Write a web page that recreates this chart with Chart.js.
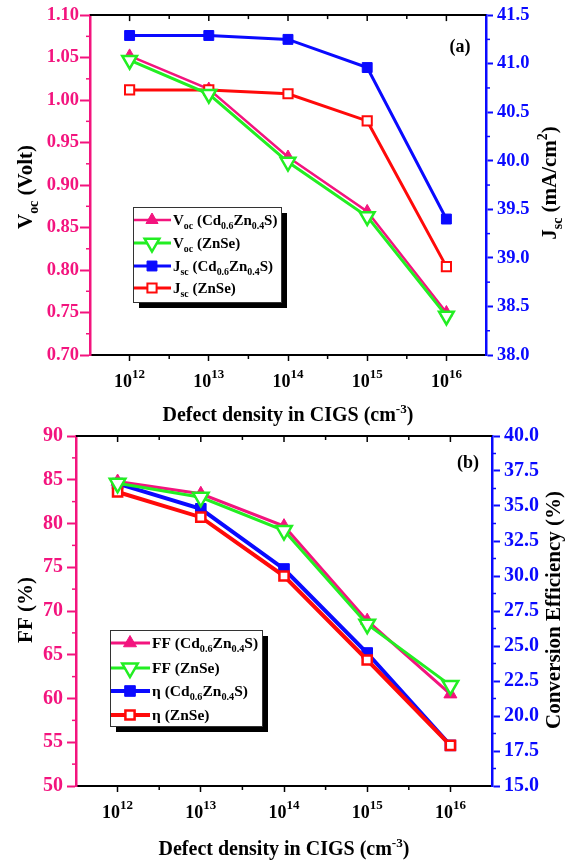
<!DOCTYPE html>
<html><head><meta charset="utf-8">
<script src="https://cdn.jsdelivr.net/npm/chart.js@4.4.0/dist/chart.umd.min.js"></script>
<style>
html,body{margin:0;padding:0;background:#fff;}
#wrap{position:relative;width:574px;height:860px;overflow:hidden;background:#fff;}
canvas{position:absolute;left:0;}
#ca{top:0;} #cb{top:415px;}
</style></head><body>
<div id="wrap"><canvas id="ca" width="574" height="430"></canvas><canvas id="cb" width="574" height="445"></canvas></div>
<script>
// ---- data (x = log10 of defect density) ----
const exponents = [12, 13, 14, 15, 16];
const vocCdZnS = [1.052, 1.013, 0.933, 0.869, 0.750];
const vocZnSe  = [1.047, 1.007, 0.927, 0.863, 0.746];
const jscCdZnS = [41.29, 41.29, 41.25, 40.96, 39.40];
const jscZnSe  = [40.73, 40.73, 40.69, 40.41, 38.91];
const ffCdZnS  = [84.8, 83.4, 79.7, 68.9, 60.5];
const ffZnSe   = [84.6, 83.0, 79.2, 68.5, 61.5];
const etaCdZnS = [36.6, 34.8, 30.5, 24.5, 17.9];
const etaZnSe  = [36.0, 34.2, 30.0, 24.0, 17.9];
// ---- tick labels ----
const vocTicks = ['0.70','0.75','0.80','0.85','0.90','0.95','1.00','1.05','1.10'];
const jscTicks = ['38.0','38.5','39.0','39.5','40.0','40.5','41.0','41.5'];
const ffTicks  = ['50','55','60','65','70','75','80','85','90'];
const etaTicks = ['15.0','17.5','20.0','22.5','25.0','27.5','30.0','32.5','35.0','37.5','40.0'];

const PINK = '#f3147e', GREEN = '#22ee22', BLUE = '#0a0aff', RED = '#ff0a0a';
const FONT = '"Liberation Serif","Times New Roman",serif';

const S = (t) => ({t, sub: 1});
const P = (t) => ({t, sup: 1});
const N = (t) => ({t});

function pts(ys){ return exponents.map((e,i)=>({x:e, y:ys[i]})); }
function mid(arr){ const v = arr.map(Number), r = []; for(let i=0;i<v.length-1;i++) r.push((v[i]+v[i+1])/2); return r; }

function richW(ctx, segs, size){
  let w = 0;
  segs.forEach(s=>{ ctx.font = 'bold '+(s.sub||s.sup? size*0.66 : size)+'px '+FONT; w += ctx.measureText(s.t).width; });
  return w;
}
function drawRich(ctx, segs, x, y, size, align){
  const w = richW(ctx, segs, size);
  let cx = align==='center' ? x - w/2 : x;
  ctx.textAlign = 'left'; ctx.textBaseline = 'alphabetic';
  segs.forEach(s=>{
    const fs = s.sub||s.sup ? size*0.66 : size;
    ctx.font = 'bold '+fs+'px '+FONT;
    const dy = s.sub ? size*0.28 : (s.sup ? -size*0.42 : 0);
    ctx.fillText(s.t, cx, y+dy);
    cx += ctx.measureText(s.t).width;
  });
}

const deco = {
  id: 'deco',
  afterDraw(chart, args, o){
    const {ctx, chartArea: ca, scales} = chart;
    const x = scales.x, y = scales.y, y1 = scales.y1;
    ctx.save();
    // top border
    ctx.strokeStyle = '#000'; ctx.lineWidth = 2;
    ctx.beginPath(); ctx.moveTo(ca.left, ca.top); ctx.lineTo(ca.right, ca.top); ctx.stroke();
    // x ticks top (inward) + minor bottom
    const xMinor = mid(exponents.concat([])).concat([exponents[0]-0.5+0.0, exponents[exponents.length-1]+0.5]).filter(v=>v>x.min && v<x.max);
    ctx.lineWidth = 1.5;
    exponents.forEach(v=>{ const px = x.getPixelForValue(v); ctx.beginPath(); ctx.moveTo(px, ca.top); ctx.lineTo(px, ca.top+6); ctx.stroke(); });
    xMinor.forEach(v=>{ const px = x.getPixelForValue(v);
      ctx.beginPath(); ctx.moveTo(px, ca.top); ctx.lineTo(px, ca.top+4); ctx.stroke();
      ctx.beginPath(); ctx.moveTo(px, ca.bottom); ctx.lineTo(px, ca.bottom+4); ctx.stroke(); });
    // y minor ticks
    ctx.strokeStyle = PINK; ctx.lineWidth = 1.5;
    mid(o.yTicks).forEach(v=>{ const py = y.getPixelForValue(v); ctx.beginPath(); ctx.moveTo(ca.left, py); ctx.lineTo(ca.left-4, py); ctx.stroke(); });
    ctx.strokeStyle = BLUE;
    mid(o.y1Ticks).forEach(v=>{ const py = y1.getPixelForValue(v); ctx.beginPath(); ctx.moveTo(ca.right, py); ctx.lineTo(ca.right+4, py); ctx.stroke(); });
    // x tick labels 10^n
    ctx.fillStyle = '#000';
    exponents.forEach(v=>{
      const px = x.getPixelForValue(v);
      ctx.font = 'bold 18px '+FONT; const w1 = ctx.measureText('10').width;
      ctx.font = 'bold 13px '+FONT; const w2 = ctx.measureText(String(v)).width;
      const sx = px - (w1+w2)/2, by = ca.bottom + 32;
      ctx.textAlign='left'; ctx.textBaseline='alphabetic';
      ctx.font = 'bold 18px '+FONT; ctx.fillText('10', sx, by);
      ctx.font = 'bold 13px '+FONT; ctx.fillText(String(v), sx+w1, by-9);
    });
    // axis titles
    ctx.fillStyle = '#000';
    drawRich(ctx, o.xTitle, (ca.left+ca.right)/2, o.xTitleY, 20, 'center');
    ctx.save(); ctx.translate(o.yTitleX, o.yTitleCY); ctx.rotate(-Math.PI/2);
    drawRich(ctx, o.yTitle, 0, 7, 21, 'center'); ctx.restore();
    ctx.save(); ctx.translate(o.y1TitleX, o.y1TitleCY); ctx.rotate(-Math.PI/2);
    drawRich(ctx, o.y1Title, 0, 7, o.y1TitleSize, 'center'); ctx.restore();
    // panel label
    ctx.font = 'bold 18px '+FONT; ctx.textAlign='center'; ctx.textBaseline='middle';
    ctx.fillText(o.panel, o.panelX, o.panelY);
    // legend
    const L = o.legend;
    ctx.fillStyle = '#000'; ctx.fillRect(L.x+6, L.y+6, L.w, L.h);
    ctx.fillStyle = '#fff'; ctx.fillRect(L.x, L.y, L.w, L.h);
    ctx.strokeStyle = '#333'; ctx.lineWidth = 1; ctx.strokeRect(L.x+0.5, L.y+0.5, L.w, L.h);
    chart.data.datasets.forEach((ds)=>{
      const ry = L.y + L.rows[ds.legendIndex];
      ctx.strokeStyle = ds.borderColor; ctx.lineWidth = ds.borderWidth;
      ctx.beginPath(); ctx.moveTo(L.x+1, ry); ctx.lineTo(L.x+L.lineLen, ry); ctx.stroke();
      ctx.fillStyle = ds.pointBackgroundColor; ctx.strokeStyle = ds.pointBorderColor; ctx.lineWidth = ds.pointBorderWidth;
      Chart.helpers.drawPoint(ctx, {pointStyle: ds.pointStyle, radius: ds.pointRadius, rotation: ds.pointRotation||0, borderWidth: ds.pointBorderWidth}, L.x + L.lineLen/2, ry);
      ctx.fillStyle = '#000';
      drawRich(ctx, ds.rich, L.x + L.lineLen + 2, ry + 5, L.size, 'left');
    });
    ctx.restore();
  }
};

function yScale(ticks, pos, color, size, tickLen, pad, width){
  const nums = ticks.map(Number);
  return {
    type: 'linear', position: pos, min: nums[0], max: nums[nums.length-1],
    afterBuildTicks: s => { s.ticks = nums.map(v=>({value:v})); },
    afterFit: s => { s.width = width; },
    ticks: { color, padding: pad, font: {family: FONT, weight: 'bold', size},
             callback: (v) => { const i = nums.findIndex(n=>Math.abs(n-v)<1e-6); return i>=0 ? ticks[i] : ''; } },
    grid: { drawOnChartArea: false, drawTicks: true, tickLength: tickLen, tickColor: color, tickWidth: 2 },
    border: { display: true, color, width: 2.5 }
  };
}
function xScale(height){
  return {
    type: 'linear', position: 'bottom', min: exponents[0]-0.5, max: exponents[exponents.length-1]+0.5,
    afterBuildTicks: s => { s.ticks = exponents.map(v=>({value:v})); },
    afterFit: s => { s.height = height; },
    ticks: { callback: () => '', padding: 0 },
    grid: { drawOnChartArea: false, drawTicks: true, tickLength: 6, tickColor: '#000', tickWidth: 1.5 },
    border: { display: true, color: '#000', width: 2 }
  };
}

function ds(label, rich, data, axis, color, style, radius, fill, bw, pbw, rot, order, li){
  return { label, rich, data: pts(data), yAxisID: axis, borderColor: color, borderWidth: bw,
    pointStyle: style, pointRadius: radius, pointHoverRadius: radius, pointBackgroundColor: fill,
    pointBorderColor: color, pointBorderWidth: pbw, pointRotation: rot, order, legendIndex: li,
    tension: 0, fill: false, clip: false };
}

const common = (xH, top, left, yT, y1T, yCol) => ({});

new Chart(document.getElementById('ca'), {
  type: 'line',
  data: { datasets: [
    ds('Voc (Cd0.6Zn0.4S)', [N('V'),S('oc'),N(' (Cd'),S('0.6'),N('Zn'),S('0.4'),N('S)')], vocCdZnS, 'y', PINK, 'triangle', 7, PINK, 2.5, 1, 0, 2, 0),
    ds('Voc (ZnSe)', [N('V'),S('oc'),N(' (ZnSe)')], vocZnSe, 'y', GREEN, 'triangle', 8.5, '#fff', 3, 2.5, 180, 0, 1),
    ds('Jsc (Cd0.6Zn0.4S)', [N('J'),S('sc'),N(' (Cd'),S('0.6'),N('Zn'),S('0.4'),N('S)')], jscCdZnS, 'y1', BLUE, 'rect', 7, BLUE, 3, 1, 0, 3, 2),
    ds('Jsc (ZnSe)', [N('J'),S('sc'),N(' (ZnSe)')], jscZnSe, 'y1', RED, 'rect', 6.5, '#fff', 3, 2, 0, 1, 3)
  ]},
  options: {
    responsive: false, animation: false, devicePixelRatio: 1,
    layout: { padding: { top: 15, left: 0, right: 0, bottom: 0 } },
    plugins: { legend: { display: false }, tooltip: { enabled: false },
      deco: { yTicks: vocTicks, y1Ticks: jscTicks,
        xTitle: [N('Defect density in CIGS (cm'), P('-3'), N(')')], xTitleY: 421,
        yTitle: [N('V'), S('oc'), N(' (Volt)')], yTitleX: 25, yTitleCY: 187,
        y1Title: [N('J'), S('sc'), N(' (mA/cm'), P('2'), N(')')], y1TitleX: 549, y1TitleCY: 183, y1TitleSize: 21,
        panel: '(a)', panelX: 460, panelY: 47,
        legend: { x: 133, y: 207, w: 148, h: 95, rows: [13, 36, 59, 81], lineLen: 38, size: 15 } } },
    scales: {
      x: xScale(75),
      y: yScale(vocTicks, 'left', PINK, 18.5, 10, 1, 90),
      y1: yScale(jscTicks, 'right', BLUE, 18.5, 7, 4, 88)
    }
  },
  plugins: [deco]
});

new Chart(document.getElementById('cb'), {
  type: 'line',
  data: { datasets: [
    ds('FF (Cd0.6Zn0.4S)', [N('FF (Cd'),S('0.6'),N('Zn'),S('0.4'),N('S)')], ffCdZnS, 'y', PINK, 'triangle', 7.5, PINK, 3, 1, 0, 2, 0),
    ds('FF (ZnSe)', [N('FF (ZnSe)')], ffZnSe, 'y', GREEN, 'triangle', 9, '#fff', 3, 2.5, 180, 0, 1),
    ds('η (Cd0.6Zn0.4S)', [N('η (Cd'),S('0.6'),N('Zn'),S('0.4'),N('S)')], etaCdZnS, 'y1', BLUE, 'rect', 7.5, BLUE, 4, 1, 0, 3, 2),
    ds('η (ZnSe)', [N('η (ZnSe)')], etaZnSe, 'y1', RED, 'rect', 6.5, '#fff', 4, 2.5, 0, 1, 3)
  ]},
  options: {
    responsive: false, animation: false, devicePixelRatio: 1,
    layout: { padding: { top: 21, left: 0, right: 0, bottom: 0 } },
    plugins: { legend: { display: false }, tooltip: { enabled: false },
      deco: { yTicks: ffTicks, y1Ticks: etaTicks,
        xTitle: [N('Defect density in CIGS (cm'), P('-3'), N(')')], xTitleY: 440,
        yTitle: [N('FF (%)')], yTitleX: 25, yTitleCY: 195,
        y1Title: [N('Conversion Efficiency (%)')], y1TitleX: 553, y1TitleCY: 195, y1TitleSize: 21,
        panel: '(b)', panelX: 468, panelY: 48,
        legend: { x: 110, y: 215, w: 152, h: 96, rows: [13, 38, 61, 85], lineLen: 40, size: 15.5 } } },
    scales: {
      x: xScale(74),
      y: yScale(ffTicks, 'left', PINK, 20, 9, 4, 76),
      y1: yScale(etaTicks, 'right', BLUE, 20, 8, 4, 82)
    }
  },
  plugins: [deco]
});
</script>
</body></html>
